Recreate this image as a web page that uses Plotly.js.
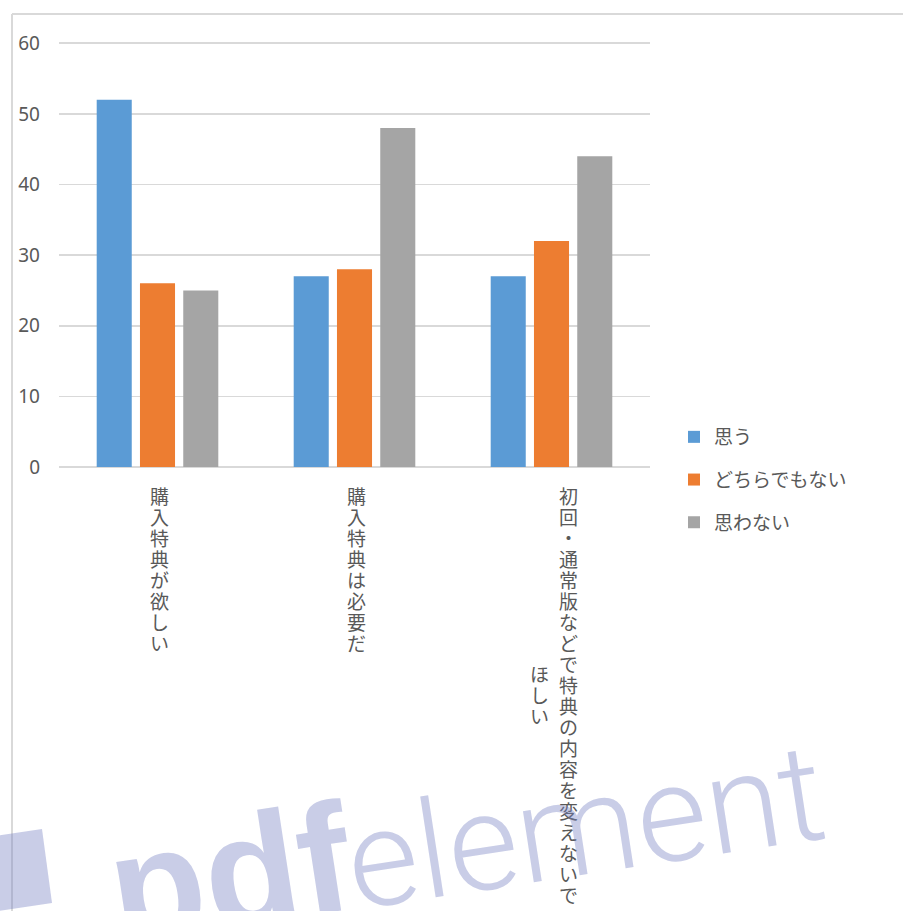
<!DOCTYPE html>
<html>
<head>
<meta charset="utf-8">
<script src="https://cdn.plot.ly/plotly-3.0.1.min.js"></script>
<style>
  html, body { margin: 0; padding: 0; background: #ffffff; }
  #chart { width: 903px; height: 911px; }
</style>
</head>
<body>
<div id="chart"></div>
<script>
// Survey answers per question
const categories = ['購入特典が欲しい', '購入特典は必要だ', '初回・通常版などで特典の内容を変えないでほしい'];
const seriesNames = ['思う', 'どちらでもない', '思わない'];
const agree = [52, 27, 27];
const neutral = [26, 28, 32];
const disagree = [25, 48, 44];
const yTicks = [0, 10, 20, 30, 40, 50, 60];

const seriesValues = [agree, neutral, disagree];
const seriesColors = ['#5b9bd5', '#ed7d31', '#a5a5a5'];

const W = 903, H = 911;
// value range runs a little past the top tick so its gridline is kept
const yMax = 60.6;
const M = { l: 59, r: 253, t: 39, b: 444 };
const plotW = W - M.l - M.r;
const plotH = H - M.t - M.b;
// pixel -> paper helpers for decorations outside the plot area
const px = x => (x - M.l) / plotW;
const py = y => (H - M.b - y) / plotH;

const textGray = '#595959';
const cjk = '"Noto Sans CJK JP", "Noto Sans", sans-serif';

const traces = seriesNames.map((name, i) => ({
  type: 'bar',
  name: name,
  x: categories,
  y: seriesValues[i],
  legendgroup: 'g' + i,
  marker: { color: seriesColors[i] },
  hoverinfo: 'x+y+name'
}));

// Category labels written vertically, one glyph per step, max 20 per column,
// columns running right to left and centred on the tallest one.
const annotations = [];
const maxPerCol = 20, pitch = 21, firstCenter = 28, colStep = 29;
categories.forEach(label => {
  const chars = Array.from(label);
  const cols = [];
  for (let i = 0; i < chars.length; i += maxPerCol) cols.push(chars.slice(i, i + maxPerCol));
  const longest = Math.max(...cols.map(c => c.length));
  const mid = firstCenter + (longest - 1) * pitch / 2;
  cols.forEach((col, ci) => {
    const xs = 2 + ((cols.length - 1) / 2 - ci) * colStep;
    const start = mid - (col.length - 1) * pitch / 2;
    col.forEach((ch, k) => {
      annotations.push({
        x: label, xref: 'x', y: 0, yref: 'paper',
        xanchor: 'center', yanchor: 'middle',
        xshift: xs, yshift: -(start + k * pitch),
        text: ch, showarrow: false,
        font: { family: cjk, size: 19, color: textGray }
      });
    });
  });
});

// Watermark overlay
const wmColor = 'rgba(120,130,196,0.40)';
const wmAngle = -8.7;
annotations.push({
  x: px(229), y: py(873), xref: 'paper', yref: 'paper',
  xanchor: 'center', yanchor: 'middle', showarrow: false,
  text: '<b>pdf</b>', textangle: wmAngle,
  font: { family: '"Liberation Sans", Arial, sans-serif', size: 155, color: wmColor }
});
annotations.push({
  x: px(585), y: py(827), xref: 'paper', yref: 'paper',
  xanchor: 'center', yanchor: 'middle', showarrow: false,
  text: 'element', textangle: wmAngle,
  font: { family: 'Roboto, "Liberation Sans", Arial, sans-serif', size: 136, weight: 300, color: wmColor }
});

const frameColor = '#d9d9d9';
const block = [[-32, 840], [42, 829], [52, 903], [-22, 914]];
const blockPath = 'M' + block.map(p => px(p[0]) + ',' + py(p[1])).join('L') + 'Z';

const shapes = [
  // chart frame (top and left edges)
  { type: 'line', xref: 'paper', yref: 'paper', x0: px(12), x1: px(910), y0: py(14), y1: py(14),
    line: { color: frameColor, width: 2 } },
  { type: 'line', xref: 'paper', yref: 'paper', x0: px(12), x1: px(12), y0: py(14), y1: py(920),
    line: { color: frameColor, width: 2 } },
  // watermark logo block
  { type: 'path', xref: 'paper', yref: 'paper', path: blockPath,
    fillcolor: wmColor, line: { width: 0 } }
];

const layout = {
  width: W, height: H,
  margin: M,
  paper_bgcolor: '#ffffff',
  plot_bgcolor: '#ffffff',
  barmode: 'group',
  bargap: 0.341,
  bargroupgap: 0.19,
  showlegend: true,
  legend: {
    x: px(674), xanchor: 'left',
    y: py(418), yanchor: 'top',
    orientation: 'v',
    traceorder: 'grouped',
    tracegroupgap: 15,
    itemwidth: 30,
    font: { family: cjk, size: 19, color: textGray },
    bgcolor: 'rgba(0,0,0,0)'
  },
  xaxis: {
    type: 'category',
    range: [-0.5, 2.5],
    showticklabels: false,
    showgrid: false,
    zeroline: false,
    showline: false,
    ticks: ''
  },
  yaxis: {
    range: [0, yMax],
    tickvals: yTicks,
    ticktext: yTicks.map(String),
    showgrid: true,
    gridcolor: frameColor,
    gridwidth: 1.5,
    zeroline: true,
    zerolinecolor: frameColor,
    zerolinewidth: 1.5,
    showline: false,
    ticks: '',
    ticklabelstandoff: 18,
    tickfont: { family: '"Noto Sans", "Open Sans", sans-serif', size: 19, color: textGray }
  },
  annotations: annotations,
  shapes: shapes
};

Plotly.newPlot('chart', traces, layout, { displayModeBar: false, staticPlot: true });
</script>
</body>
</html>
